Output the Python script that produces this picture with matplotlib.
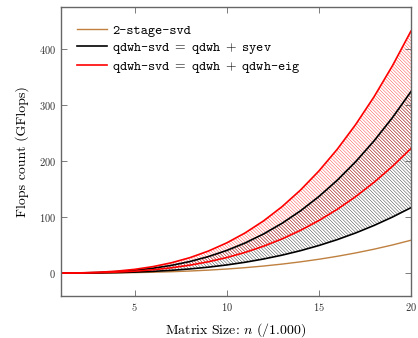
import numpy as np
import matplotlib
matplotlib.use('Agg')
import matplotlib.pyplot as plt
from matplotlib import rcParams

rcParams['font.family'] = 'cmr10'
rcParams['mathtext.fontset'] = 'cm'
rcParams['axes.formatter.use_mathtext'] = True
rcParams['hatch.linewidth'] = 0.3

# matrix size n (/1.000) and flop counts in GFlops
sizes = list(range(1, 21))
two_stage = [0.01, 0.06, 0.20, 0.47, 0.92, 1.58, 2.51, 3.75, 5.34, 7.33,
             9.76, 12.67, 16.11, 20.12, 24.75, 30.03, 36.02, 42.76, 50.29, 58.67]
syev_hi = [0.04, 0.32, 1.09, 2.59, 5.06, 8.75, 13.89, 20.74, 29.52, 40.50,
           53.90, 69.98, 88.98, 111.13, 136.69, 165.89, 198.98, 236.20, 277.79, 324.0]
syev_lo = [0.02, 0.12, 0.39, 0.93, 1.83, 3.15, 5.01, 7.48, 10.64, 14.60,
           19.43, 25.23, 32.08, 40.06, 49.28, 59.80, 71.73, 85.15, 100.14, 116.8]
eig_hi = [0.05, 0.43, 1.46, 3.46, 6.75, 11.66, 18.52, 27.65, 39.37, 54.00,
          71.87, 93.31, 118.64, 148.18, 182.25, 221.18, 265.30, 314.93, 370.39, 432.0]
eig_lo = [0.03, 0.22, 0.75, 1.78, 3.48, 6.00, 9.54, 14.23, 20.27, 27.80,
          37.00, 48.04, 61.08, 76.28, 93.83, 113.87, 136.58, 162.13, 190.68, 222.4]

brown = '#bf8040'
grey = '#666666'

fig = plt.figure(figsize=(4.18, 3.38), dpi=100)
ax = fig.add_axes([0.146, 0.124, 0.837, 0.855])

# hatched bands
ax.fill_between(sizes, syev_lo, syev_hi, facecolor='none', edgecolor='#222222',
                hatch='\\' * 10, linewidth=0)
ax.fill_between(sizes, eig_lo, eig_hi, facecolor='none', edgecolor='#ff3030',
                hatch='\\' * 10, linewidth=0)

ax.plot(sizes, two_stage, color=brown, lw=1.0, label='2-stage-svd')
ax.plot(sizes, syev_hi, color='black', lw=1.2,
        label=r'qdwh-svd$\;=\;$qdwh$\;+\;$syev')
ax.plot(sizes, syev_lo, color='black', lw=1.2)
ax.plot(sizes, eig_hi, color='red', lw=1.2,
        label=r'qdwh-svd$\;=\;$qdwh$\;+\;$qdwh-eig')
ax.plot(sizes, eig_lo, color='red', lw=1.2)

ax.set_xlim(1, 20)
ax.set_ylim(-41, 475)
ax.set_xticks([5, 10, 15, 20])
ax.set_yticks([0, 100, 200, 300, 400])
ax.tick_params(direction='in', length=4, width=0.6, color=grey,
               labelsize=7.5, labelcolor='#333333', top=True, right=True)
for s in ax.spines.values():
    s.set_color(grey)
    s.set_linewidth(1.0)

ax.set_xlabel(r'Matrix Size: $n$ (/1.000)', fontsize=10, labelpad=6)
ax.set_ylabel('Flops count (GFlops)', fontsize=10, labelpad=7)

leg = ax.legend(loc='upper left', bbox_to_anchor=(0.03, 0.96), frameon=False,
                prop={'family': 'cmtt10', 'size': 9.8},
                handlelength=2.2, handletextpad=0.4, labelspacing=0.3,
                borderaxespad=0.0)

fig.savefig('out.png', dpi=100)
